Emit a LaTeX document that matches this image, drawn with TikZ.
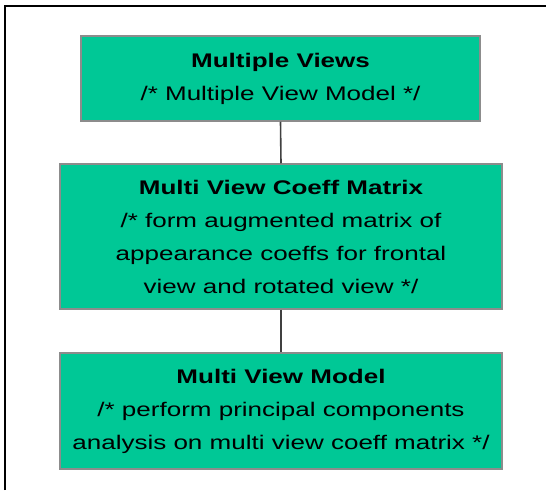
\documentclass[tikz,border=0pt]{standalone}
\usepackage{fontspec}
\setmainfont{Liberation Sans}[FakeStretch=1.32]
\definecolor{boxgreen}{RGB}{0,200,150}
\definecolor{boxedge}{RGB}{140,140,140}
\definecolor{linkgray}{RGB}{64,64,64}
\begin{document}
\begin{tikzpicture}[x=1pt,y=-1pt,
  stagebox/.style={draw=boxedge,line width=1.5pt,fill=boxgreen,align=center,
    inner sep=0pt,font=\fontsize{19.7}{33}\selectfont},
  link/.style={draw=linkgray,line width=1.6pt}]
  \useasboundingbox (0,0) rectangle (546,490);
  % page frame: top and left edges
  \draw[line width=2pt] (5,490) -- (5,6) -- (546,6);
  \node[stagebox,minimum width=399pt,minimum height=85pt] (views) at (280.5,78.5)
    {\textbf{Multiple Views}\\/* Multiple View Model */};
  \node[stagebox,minimum width=442pt,minimum height=145pt] (coeff) at (281,236.5)
    {\textbf{Multi View Coeff Matrix}\\/* form augmented matrix of\\appearance coeffs for frontal\\view and rotated view */};
  \node[stagebox,minimum width=442pt,minimum height=116pt] (model) at (281,411)
    {\textbf{Multi View Model}\\/* perform principal components\\analysis on multi view coeff matrix */};
  \draw[link] (views.south) -- (coeff.north);
  \draw[link] (coeff.south) -- (model.north);
\end{tikzpicture}
\end{document}
